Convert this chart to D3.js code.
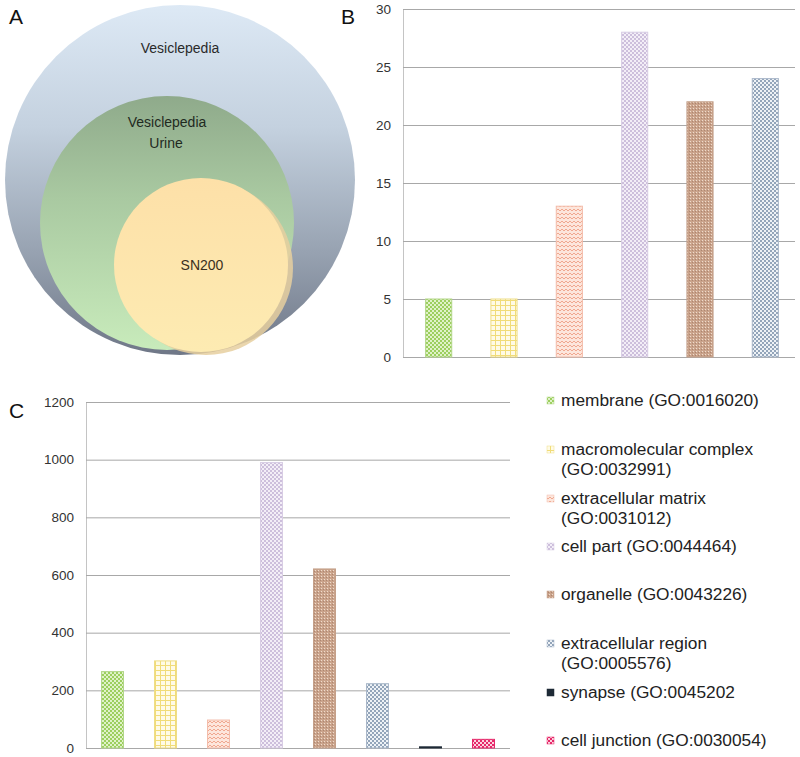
<!DOCTYPE html>
<html><head><meta charset="utf-8">
<script src="https://cdn.jsdelivr.net/npm/d3@7/dist/d3.min.js"></script>
<style>body{margin:0;background:#fff}svg{display:block;font-family:"Liberation Sans",Arial,sans-serif}</style>
</head><body><svg id="c" width="800" height="757"></svg>
<script>
// ---- data ----
const categoriesB = ["membrane","macromolecular complex","extracellular matrix","cell part","organelle","extracellular region"];
const valuesB = [5, 5, 13, 28, 22, 24];
const ticksB = [0, 5, 10, 15, 20, 25, 30];

const categoriesC = ["membrane","macromolecular complex","extracellular matrix","cell part","organelle","extracellular region","synapse","cell junction"];
const valuesC = [265, 302, 97, 990, 621, 223, 4, 30];
const ticksC = [0, 200, 400, 600, 800, 1000, 1200];

const legendLines = [
  ["membrane (GO:0016020)"],
  ["macromolecular complex", "(GO:0032991)"],
  ["extracellular matrix", "(GO:0031012)"],
  ["cell part (GO:0044464)"],
  ["organelle (GO:0043226)"],
  ["extracellular region", "(GO:0005576)"],
  ["synapse (GO:0045202"],
  ["cell junction (GO:0030054)"]
];
const vennSets = ["Vesiclepedia", "Vesiclepedia Urine", "SN200"];

// ---- drawing ----
const svg = d3.select("#c");
const defs = svg.append("defs");

function pat(id, w, h, bg, draw){
  const p = defs.append("pattern").attr("id", id).attr("patternUnits","userSpaceOnUse").attr("width", w).attr("height", h);
  p.append("rect").attr("width", w).attr("height", h).attr("fill", bg);
  draw(p);
}
function checker(p, c){ p.append("rect").attr("width",2).attr("height",2).attr("fill",c); p.append("rect").attr("x",2).attr("y",2).attr("width",2).attr("height",2).attr("fill",c); }
pat("p0", 4, 4, "#e0f2c8", p => checker(p, "#9ccf5e"));
pat("p1", 5, 5, "#fffbe6", p => { p.append("rect").attr("width",5).attr("height",1).attr("fill","#f1dc78"); p.append("rect").attr("width",1).attr("height",5).attr("fill","#f1dc78"); });
pat("p2", 4, 4, "#fde6dc", p => { p.append("path").attr("d","M0,3 L2,1 L4,3").attr("stroke","#f0a890").attr("stroke-width",1).attr("fill","none"); });
pat("p3", 4, 4, "#f3eef7", p => checker(p, "#cdbfdc"));
pat("p4", 3, 3, "#caa38b", p => { p.append("rect").attr("width",1).attr("height",1).attr("fill","#efdccd"); p.append("rect").attr("x",2).attr("y",1).attr("width",1).attr("height",1).attr("fill","#ad8670"); });
pat("p5", 4, 4, "#eef2f6", p => checker(p, "#93a5ba"));
pat("p6", 4, 4, "#1e2a36", p => {});
pat("p7", 4, 4, "#fbd3df", p => checker(p, "#e6296a"));
const strokes = ["#b3d68a","#eedd88","#f3bcaa","#d8cde4","#c4a08a","#a9b7c9","#1e2a36","#e6296a"];

function lg(id, stops){
  const g = defs.append("linearGradient").attr("id", id).attr("x1",0).attr("y1",0).attr("x2",0).attr("y2",1);
  stops.forEach(s => g.append("stop").attr("offset", s[0]).attr("stop-color", s[1]));
}
lg("gOuter", [[0,"#dde9f5"],[0.35,"#c4d1df"],[0.7,"#98a3b2"],[1,"#6f7787"]]);
lg("gMid", [[0,"#8faa8b"],[0.4,"#a9c9a1"],[1,"#c8ebbb"]]);
lg("gIn", [[0,"#fde0a8"],[1,"#fdebb2"]]);

// Panel A - nested circles
const A = svg.append("g");
A.append("circle").attr("cx",180).attr("cy",180).attr("r",175).attr("fill","url(#gOuter)");
A.append("circle").attr("cx",167).attr("cy",223).attr("r",127).attr("fill","url(#gMid)");
A.append("circle").attr("cx",206).attr("cy",268).attr("r",87).attr("fill","#e6cf9f").attr("opacity",0.85);
A.append("circle").attr("cx",201).attr("cy",265).attr("r",87).attr("fill","url(#gIn)");
A.append("text").attr("x",180).attr("y",53).attr("text-anchor","middle").attr("font-size",14).attr("fill","#2a2a2a").text(vennSets[0]);
const [v1, v2] = vennSets[1].split(" ");
A.append("text").attr("x",167).attr("y",127).attr("text-anchor","middle").attr("font-size",14).attr("fill","#1f2a1f").text(v1);
A.append("text").attr("x",166).attr("y",148).attr("text-anchor","middle").attr("font-size",14).attr("fill","#1f2a1f").text(v2);
A.append("text").attr("x",202).attr("y",270).attr("text-anchor","middle").attr("font-size",14).attr("fill","#3a3020").text(vennSets[2]);

[["A",9,24],["B",341,24],["C",9,418]].forEach(([t,x,y]) =>
  svg.append("text").attr("x",x).attr("y",y).attr("font-size",21).attr("fill","#111").text(t));

function barChart(cats, vals, ticks, ax0, ax1, bx0, bx1, y0, y1, pad){
  const g = svg.append("g");
  const x = d3.scaleBand().domain(cats).range([bx0, bx1]).paddingInner(pad).paddingOuter(pad/2);
  const y = d3.scaleLinear().domain([ticks[0], ticks[ticks.length-1]]).range([y0, y1]);
  const ax = d3.axisLeft(y).tickValues(ticks).tickFormat(d3.format("d")).tickSize(-(ax1 - ax0)).tickPadding(12);
  const ag = g.append("g").attr("transform", `translate(${ax0},0)`).call(ax);
  ag.select(".domain").attr("stroke","#c4c4c4");
  ag.selectAll(".tick line").attr("stroke","#a8a8a8");
  ag.selectAll(".tick text").attr("font-size",13.5).attr("fill","#333").attr("font-family","'Liberation Sans',Arial,sans-serif");
  g.selectAll("rect.bar").data(vals).join("rect").attr("class","bar")
    .attr("x",(d,i)=>x(cats[i])).attr("width",x.bandwidth())
    .attr("y",d=>y(d)).attr("height",d=>y(0)-y(d))
    .attr("fill",(d,i)=>`url(#p${i})`).attr("stroke",(d,i)=>strokes[i]).attr("stroke-width",1);
  return g;
}
barChart(categoriesB, valuesB, ticksB, 403, 795, 406, 798, 357, 9, 0.6);
barChart(categoriesC, valuesC, ticksC, 86, 510, 86, 510, 748, 402, 0.585);

const legendY = [400, 449, 498, 546, 594, 643, 692, 740];
const L = svg.append("g");
legendLines.forEach((lines, i) => {
  L.append("rect").attr("x",547).attr("y",legendY[i]-3).attr("width",7).attr("height",7)
    .attr("fill",`url(#p${i})`).attr("stroke",strokes[i]).attr("stroke-width",0.5);
  lines.forEach((t, j) => L.append("text").attr("x",561).attr("y",legendY[i]+6+j*20)
    .attr("font-size",17.3).attr("fill","#222").text(t));
});
</script></body></html>
